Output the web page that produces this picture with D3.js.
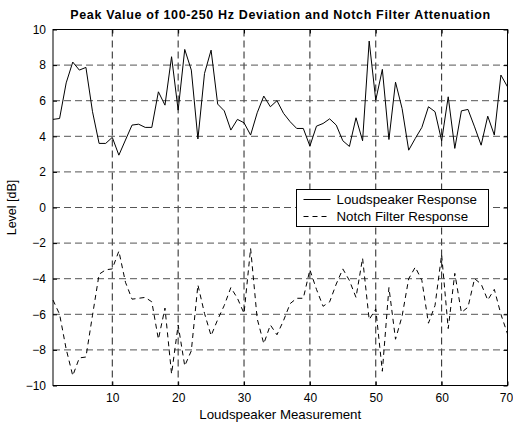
<!DOCTYPE html>
<html>
<head>
<meta charset="utf-8">
<script src="https://cdn.jsdelivr.net/npm/d3@7"></script>
<style>
  body { margin: 0; background: #fff; }
  svg { font-family: "Liberation Sans", Arial, sans-serif; }
</style>
</head>
<body>
<script>
// Measurement index 1..70
const measurements = d3.range(1, 71);

// Loudspeaker response (solid), dB
const loudspeaker = [
  4.95, 5.0, 7.0, 8.17, 7.72, 7.87, 5.38, 3.6, 3.6, 3.94,
  2.94, 3.79, 4.63, 4.68, 4.5, 4.5, 6.5, 5.75, 8.47, 5.47,
  8.88, 7.72, 3.85, 7.53, 8.84, 5.81, 5.43, 4.35, 4.95, 4.76,
  4.07, 5.32, 6.26, 5.66, 6.0, 5.29, 4.82, 4.44, 4.44, 3.45,
  4.57, 4.72, 4.98, 4.63, 3.75, 3.43, 5.04, 3.75, 9.35, 6.03,
  7.76, 3.82, 7.04, 5.56, 3.22, 3.88, 4.5, 5.66, 5.38, 3.75,
  6.22, 3.32, 5.43, 5.51, 4.53, 3.5, 5.13, 4.07, 7.44, 6.78
];

// Notch filter response (dashed), dB
const notch = [
  -5.2, -6.0, -7.95, -9.45, -8.45, -8.4, -6.05, -3.75, -3.5, -3.45,
  -2.45, -4.2, -5.15, -5.1, -5.05, -5.3, -7.4, -5.65, -9.35, -6.6,
  -8.9, -8.05, -4.35, -5.95, -7.2, -6.3, -5.5, -4.5, -5.1, -5.95,
  -2.3, -6.25, -7.65, -6.6, -7.15, -6.35, -5.4, -5.1, -5.1, -3.5,
  -4.6, -5.55, -5.3, -4.3, -3.45, -4.1, -5.05, -2.85, -6.3, -5.7,
  -9.2, -4.5, -7.4, -6.1, -4.0, -3.35, -4.1, -6.5, -5.5, -2.65,
  -6.8, -3.7, -5.9, -5.6, -4.0, -4.3, -5.2, -4.6, -6.0, -7.1
];

const xTicks = [10, 20, 30, 40, 50, 60, 70];
const yTicks = [-10, -8, -6, -4, -2, 0, 2, 4, 6, 8, 10];
const seriesNames = ["Loudspeaker Response", "Notch Filter Response"];

const margin = { top: 29.5, right: 5.5, bottom: 40.5, left: 53 },
      W = 513, H = 426,
      width = W - margin.left - margin.right,
      height = H - margin.top - margin.bottom;

const svg = d3.select("body").append("svg")
    .attr("width", W)
    .attr("height", H);

const g = svg.append("g")
    .attr("transform", `translate(${margin.left},${margin.top})`);

const x = d3.scaleLinear().domain([1, 70]).range([0, width]);
const y = d3.scaleLinear().domain([-10, 10]).range([height, 0]);

// Grid
g.selectAll(".gx")
    .data(xTicks.filter(d => d < 70))
    .enter().append("line")
    .attr("x1", d => x(d)).attr("x2", d => x(d))
    .attr("y1", 0).attr("y2", height)
    .attr("stroke", "#222").attr("stroke-width", 1)
    .attr("stroke-dasharray", "7,4");

g.selectAll(".gy")
    .data(yTicks.filter(d => d > -10 && d < 10))
    .enter().append("line")
    .attr("x1", 0).attr("x2", width)
    .attr("y1", d => y(d)).attr("y2", d => y(d))
    .attr("stroke", "#555").attr("stroke-width", 1)
    .attr("stroke-dasharray", "7,4");

// Lines
const line = d3.line()
    .x((d, i) => x(measurements[i]))
    .y(d => y(d));

g.append("path")
    .datum(loudspeaker)
    .attr("fill", "none")
    .attr("stroke", "#000")
    .attr("stroke-width", 1)
    .attr("d", line);

g.append("path")
    .datum(notch)
    .attr("fill", "none")
    .attr("stroke", "#000")
    .attr("stroke-width", 1)
    .attr("stroke-dasharray", "5,4")
    .attr("d", line);

// Axes with inward ticks
const axisStyle = sel => {
  sel.select(".domain").remove();
  sel.selectAll("text").attr("font-size", 12).attr("fill", "#000")
      .attr("font-family", "'Liberation Sans', Arial, sans-serif");
  sel.selectAll("line").attr("stroke", "#000");
};

const xAxis = g.append("g")
    .attr("transform", `translate(0,${height})`)
    .call(d3.axisBottom(x).tickValues(xTicks).tickSizeInner(-4).tickSizeOuter(0).tickPadding(8))
    .call(axisStyle);
// keep the last label inside the window
xAxis.selectAll(".tick text").filter(d => d === 70).attr("dx", -1.5);

g.append("g")
    .call(d3.axisLeft(y).tickValues(yTicks).tickSizeInner(-4).tickSizeOuter(0).tickPadding(7))
    .call(axisStyle);

g.append("g")
    .call(d3.axisTop(x).tickValues(xTicks).tickSizeInner(-4).tickSizeOuter(0).tickFormat(""))
    .call(axisStyle);

g.append("g")
    .attr("transform", `translate(${width},0)`)
    .call(d3.axisRight(y).tickValues(yTicks).tickSizeInner(-4).tickSizeOuter(0).tickFormat(""))
    .call(axisStyle);

// Frame
g.append("rect")
    .attr("width", width).attr("height", height)
    .attr("fill", "none").attr("stroke", "#000").attr("stroke-width", 1);

// Title and axis labels
svg.append("text")
    .attr("x", margin.left + width / 2).attr("y", 18.5)
    .attr("text-anchor", "middle")
    .attr("font-size", 12.5).attr("font-weight", "bold")
    .attr("textLength", 420).attr("lengthAdjust", "spacing")
    .text("Peak Value of 100-250 Hz Deviation and Notch Filter Attenuation");

svg.append("text")
    .attr("x", margin.left + width / 2).attr("y", 419)
    .attr("text-anchor", "middle")
    .attr("font-size", 13.3)
    .text("Loudspeaker Measurement");

svg.append("text")
    .attr("transform", `translate(16,${margin.top + height / 2}) rotate(-90)`)
    .attr("text-anchor", "middle")
    .attr("font-size", 12.5)
    .text("Level [dB]");

// Legend
const legend = svg.append("g").attr("transform", "translate(296.5,189.5)");
legend.append("rect")
    .attr("width", 192).attr("height", 37)
    .attr("fill", "#fff").attr("stroke", "#000").attr("stroke-width", 1);

legend.selectAll(".item")
    .data(seriesNames)
    .enter().append("g")
    .attr("transform", (d, i) => `translate(0,${10 + i * 17})`)
    .each(function(d, i) {
      const it = d3.select(this);
      it.append("line")
          .attr("x1", 7).attr("x2", 34).attr("y1", 0).attr("y2", 0)
          .attr("stroke", "#000").attr("stroke-width", 1)
          .attr("stroke-dasharray", i === 1 ? "5,4" : null);
      it.append("text")
          .attr("x", 40).attr("y", 4.5)
          .attr("font-size", 13.3)
          .text(d);
    });
</script>
</body>
</html>
